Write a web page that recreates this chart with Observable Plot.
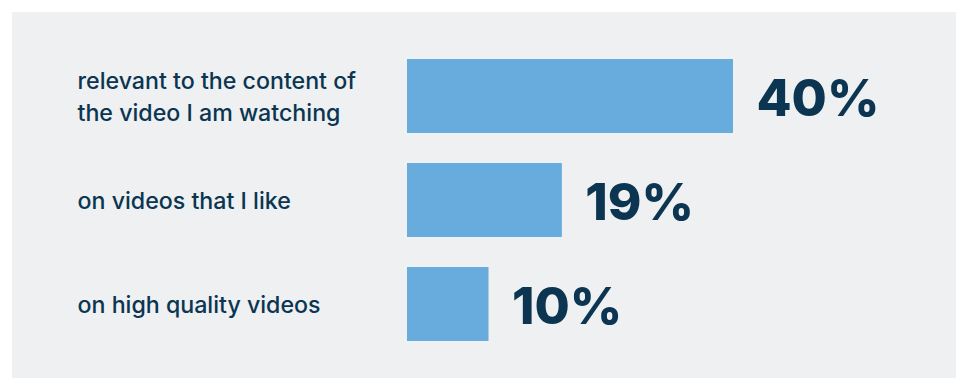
<!DOCTYPE html>
<html>
<head>
<meta charset="utf-8">
<script src="https://cdn.jsdelivr.net/npm/d3@7"></script>
<script src="https://cdn.jsdelivr.net/npm/@observablehq/plot@0.6"></script>
<style>
  html, body { margin: 0; padding: 0; background: #ffffff; }
  #wrap { position: relative; width: 956px; height: 378px; overflow: hidden; }
  #panel { position: absolute; left: 12px; top: 12px; right: 0; bottom: 0; background: #eef0f2; }
  #chart { position: absolute; left: 0; top: 0; }
  #chart svg { display: block; }
</style>
</head>
<body>
<div id="wrap"><div id="panel"></div><div id="chart"></div></div>
<script>
const categories = [
  "relevant to the content of\nthe video I am watching",
  "on videos that I like",
  "on high quality videos"
];
const values = [40, 19, 10];
const valueLabels = ["40%", "19%", "10%"];

const data = categories.map((c, i) => ({category: c, value: values[i], label: valueLabels[i]}));

const navy = "#0b3550";
const blue = "#68acdd";

const chart = Plot.plot({
  width: 956,
  height: 378,
  marginLeft: 407,
  marginRight: 223,
  marginTop: 0,
  marginBottom: 0,
  style: {background: "transparent", overflow: "visible"},
  x: {domain: [0, 40], axis: null},
  y: {domain: categories, range: [27.5, 371.5], padding: 0.292, axis: null},
  marks: [
    Plot.barX(data, {x: "value", y: "category", fill: blue}),
    Plot.text(data, {
      y: "category", text: "category", frameAnchor: "left", dx: -330, dy: -2,
      textAnchor: "start", lineAnchor: "middle", lineHeight: 1.38,
      fill: navy, fontSize: 23.2, fontFamily: "Inter", fontWeight: 500
    }),
    Plot.text(data, {
      x: "value", y: "category", text: "label", dx: 23, dy: 3,
      textAnchor: "start", lineAnchor: "middle",
      fill: navy, fontSize: 51, fontFamily: "Inter", fontWeight: 800
    })
  ]
});
document.getElementById("chart").appendChild(chart);
</script>
</body>
</html>
